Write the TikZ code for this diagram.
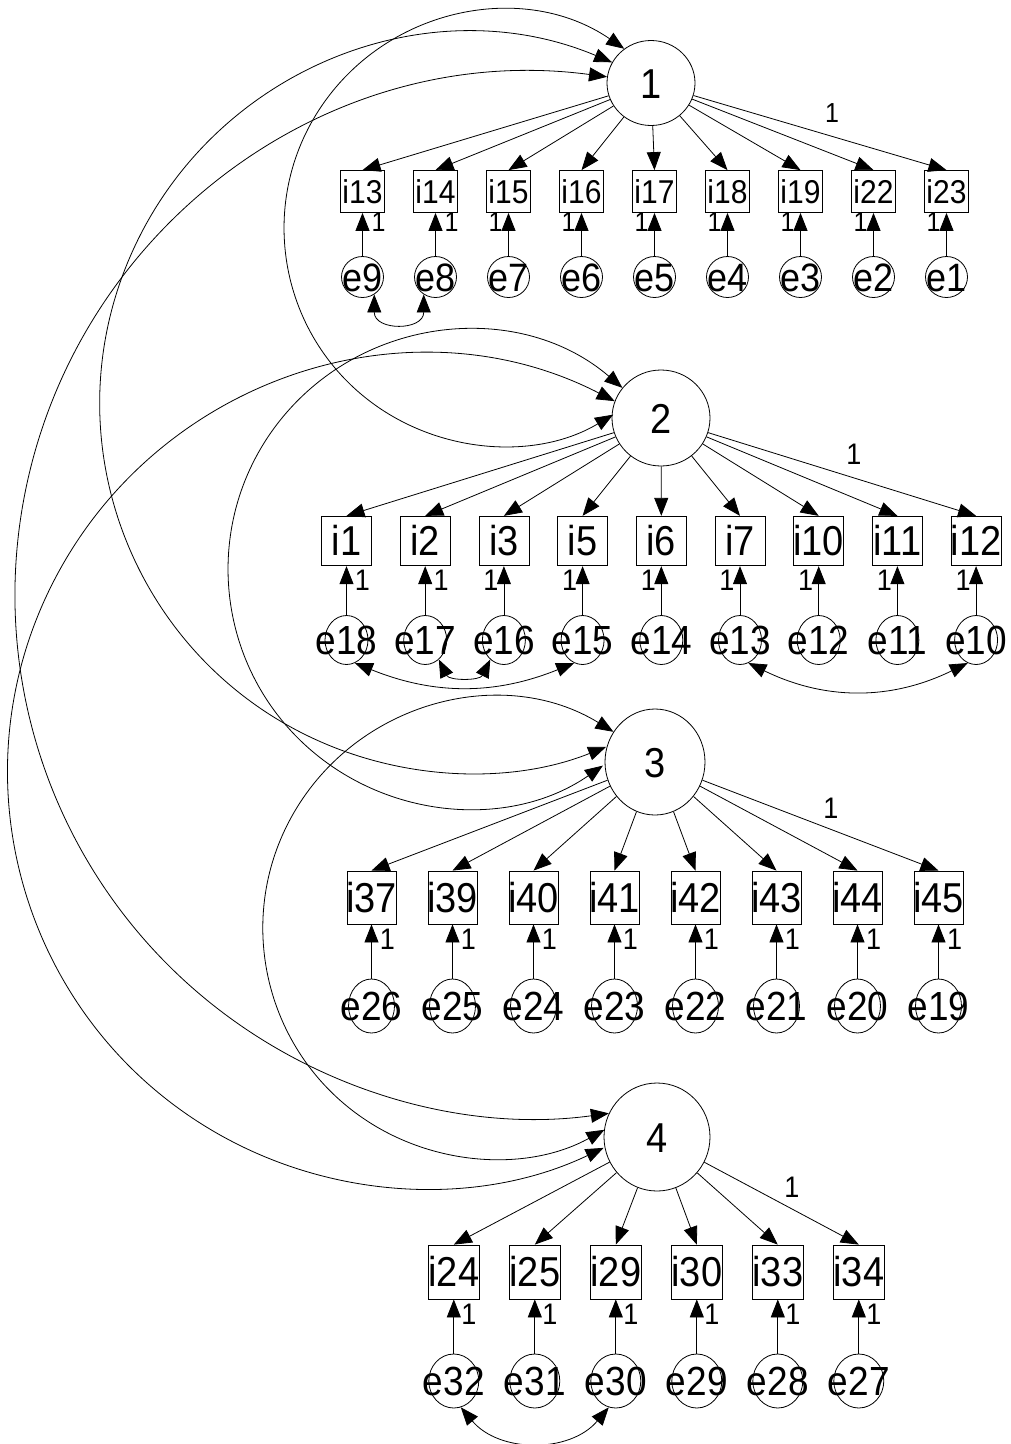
\documentclass[tikz,border=0pt]{standalone}
\usepackage{fontspec}
\usepackage{graphicx}
\setmainfont{Liberation Sans}
\usetikzlibrary{arrows.meta,shapes.geometric}
\newcommand{\zb}[1]{\makebox[0pt]{\scalebox{1}[1.1]{#1}}}
\begin{document}
\begin{tikzpicture}[x=1pt,y=1pt,
  lw/.style={line width=0.8pt},
  lat/.style={ellipse, draw, lw, inner sep=0pt, font=\fontsize{38}{38}\selectfont, text height=30pt, text depth=0pt},
  obsA/.style={rectangle, draw, lw, inner sep=0pt, minimum width=43.5pt, minimum height=42pt, font=\fontsize{30}{30}\selectfont, text height=23.6pt, text depth=0pt},
  obsB/.style={rectangle, draw, lw, inner sep=0pt, font=\fontsize{38}{38}\selectfont, text height=29.9pt, text depth=0pt},
  errA/.style={ellipse, draw, lw, inner sep=0pt, minimum width=42pt, minimum height=41pt, font=\fontsize{36}{36}\selectfont, text height=28.4pt, text depth=0pt},
  errB/.style={ellipse, draw, lw, inner sep=0pt, font=\fontsize{37}{37}\selectfont, text height=29.1pt, text depth=0pt},
  pth/.style={lw, -{Triangle[length=18pt,width=14pt]}},
  cov/.style={lw, {Triangle[length=18pt,width=14pt]}-{Triangle[length=18pt,width=14pt]}},
  one/.style={inner sep=0pt, font=\fontsize{25}{25}\selectfont},
  oneB/.style={inner sep=0pt, font=\fontsize{27}{27}\selectfont},
]
\fill[white] (0,0) rectangle (1010,-1444);
\useasboundingbox (0,0) rectangle (1010,-1444);

% latent factors
\node[lat, minimum width=88pt, minimum height=85pt] (F1) at (651,-83) {\zb{1}};
\node[lat, minimum width=98pt, minimum height=96pt] (F2) at (661,-418) {\zb{2}};
\node[lat, minimum width=100pt, minimum height=106pt] (F3) at (655,-762) {\zb{3}};
\node[lat, minimum width=106pt, minimum height=108pt] (F4) at (657,-1137) {\zb{4}};

% row 1
\foreach \n/\e [count=\k from 0] in {13/9,14/8,15/7,16/6,17/5,18/4,19/3,22/2,23/1} {
  \pgfmathsetmacro\xx{362.5+73*\k}
  \pgfmathsetmacro\lx{\k<2 ? \xx+16 : \xx-13}
  \node[obsA] (i\n) at (\xx,-191.5) {\zb{i\n}};
  \node[errA] (e\e) at (\xx,-277) {\zb{e\e}};
  \draw[pth] (F1) -- (i\n.north);
  \draw[pth] (e\e) -- (i\n);
  \node[one] (o\n) at (\lx,-222.5) {\zb{1}};
}
\node[one] (l1) at (832,-113) {\zb{1}};
\draw[cov] (e9.-56) to[out=-90,in=-90,looseness=1.9] (e8.-124);

% row 2
\foreach \n/\e [count=\k from 0] in {1/18,2/17,3/16,5/15,6/14,7/13,10/12,11/11,12/10} {
  \pgfmathsetmacro\xx{346.5+78.7*\k}
  \pgfmathsetmacro\lx{\k<2 ? \xx+16 : \xx-13}
  \node[obsB, minimum width=50pt, minimum height=49.5pt] (i\n) at (\xx,-541) {\zb{i\n}};
  \node[errB, minimum width=43pt, minimum height=49pt] (e\e) at (\xx,-640) {\zb{e\e}};
  \draw[pth] (F2) -- (i\n.north);
  \draw[pth] (e\e) -- (i\n);
  \node[oneB] (o\n) at (\lx,-580) {\zb{1}};
}
\node[oneB] (l2) at (854,-454) {\zb{1}};
\draw[cov] (e18.-70) to[bend right=22] (e15.-110);
\draw[cov] (e17.-55) to[bend right=64,looseness=1.18] (e16.-125);
\draw[cov] (e13.-70) to[bend right=26] (e10.-110);

% row 3
\foreach \n/\e [count=\k from 0] in {37/26,39/25,40/24,41/23,42/22,43/21,44/20,45/19} {
  \pgfmathsetmacro\xx{371.5+81*\k}
  \node[obsB, minimum width=49pt, minimum height=53pt] (i\n) at (\xx,-897.5) {\zb{i\n}};
  \node[errB, minimum width=46pt, minimum height=54pt] (e\e) at (\xx,-1006) {\zb{e\e}};
  \draw[pth] (F3) -- (i\n.north);
  \draw[pth] (e\e) -- (i\n);
  \node[oneB] (o\n) at (\xx+16,-939) {\zb{1}};
}
\node[oneB] (l3) at (831,-808) {\zb{1}};

% row 4
\foreach \n/\e [count=\k from 0] in {24/32,25/31,29/30,30/29,33/28,34/27} {
  \pgfmathsetmacro\xx{453.8+81*\k}
  \node[obsB, minimum width=51pt, minimum height=54pt] (i\n) at (\xx,-1272) {\zb{i\n}};
  \node[errB, minimum width=50pt, minimum height=54pt] (e\e) at (\xx,-1381) {\zb{e\e}};
  \draw[pth] (F4) -- (i\n.north);
  \draw[pth] (e\e) -- (i\n);
  \node[oneB] (o\n) at (\xx+15,-1314) {\zb{1}};
}
\node[oneB] (l4) at (792,-1187) {\zb{1}};
\draw[cov] (e32.-75) to[bend right=50,looseness=1.04] (e30.-105);

% factor covariances (circular arcs)
\draw[cov] (F1.128) arc[start angle=55.6, end angle=300.9, radius=217.4pt];
\draw[cov] (F2.142) arc[start angle=49.4, end angle=304.7, radius=238.9pt];
\draw[cov] (F3.144) arc[start angle=58.5, end angle=298.9, radius=230.3pt];
\draw[cov] (F1.152) arc[start angle=67.3, end angle=291.7, radius=369.7pt];
\draw[cov] (F1.172) arc[start angle=82.4, end angle=277.8, radius=523pt];
\draw[cov] (F2.160) arc[start angle=62.8, end angle=295.5, radius=416.7pt];
\end{tikzpicture}
\end{document}
